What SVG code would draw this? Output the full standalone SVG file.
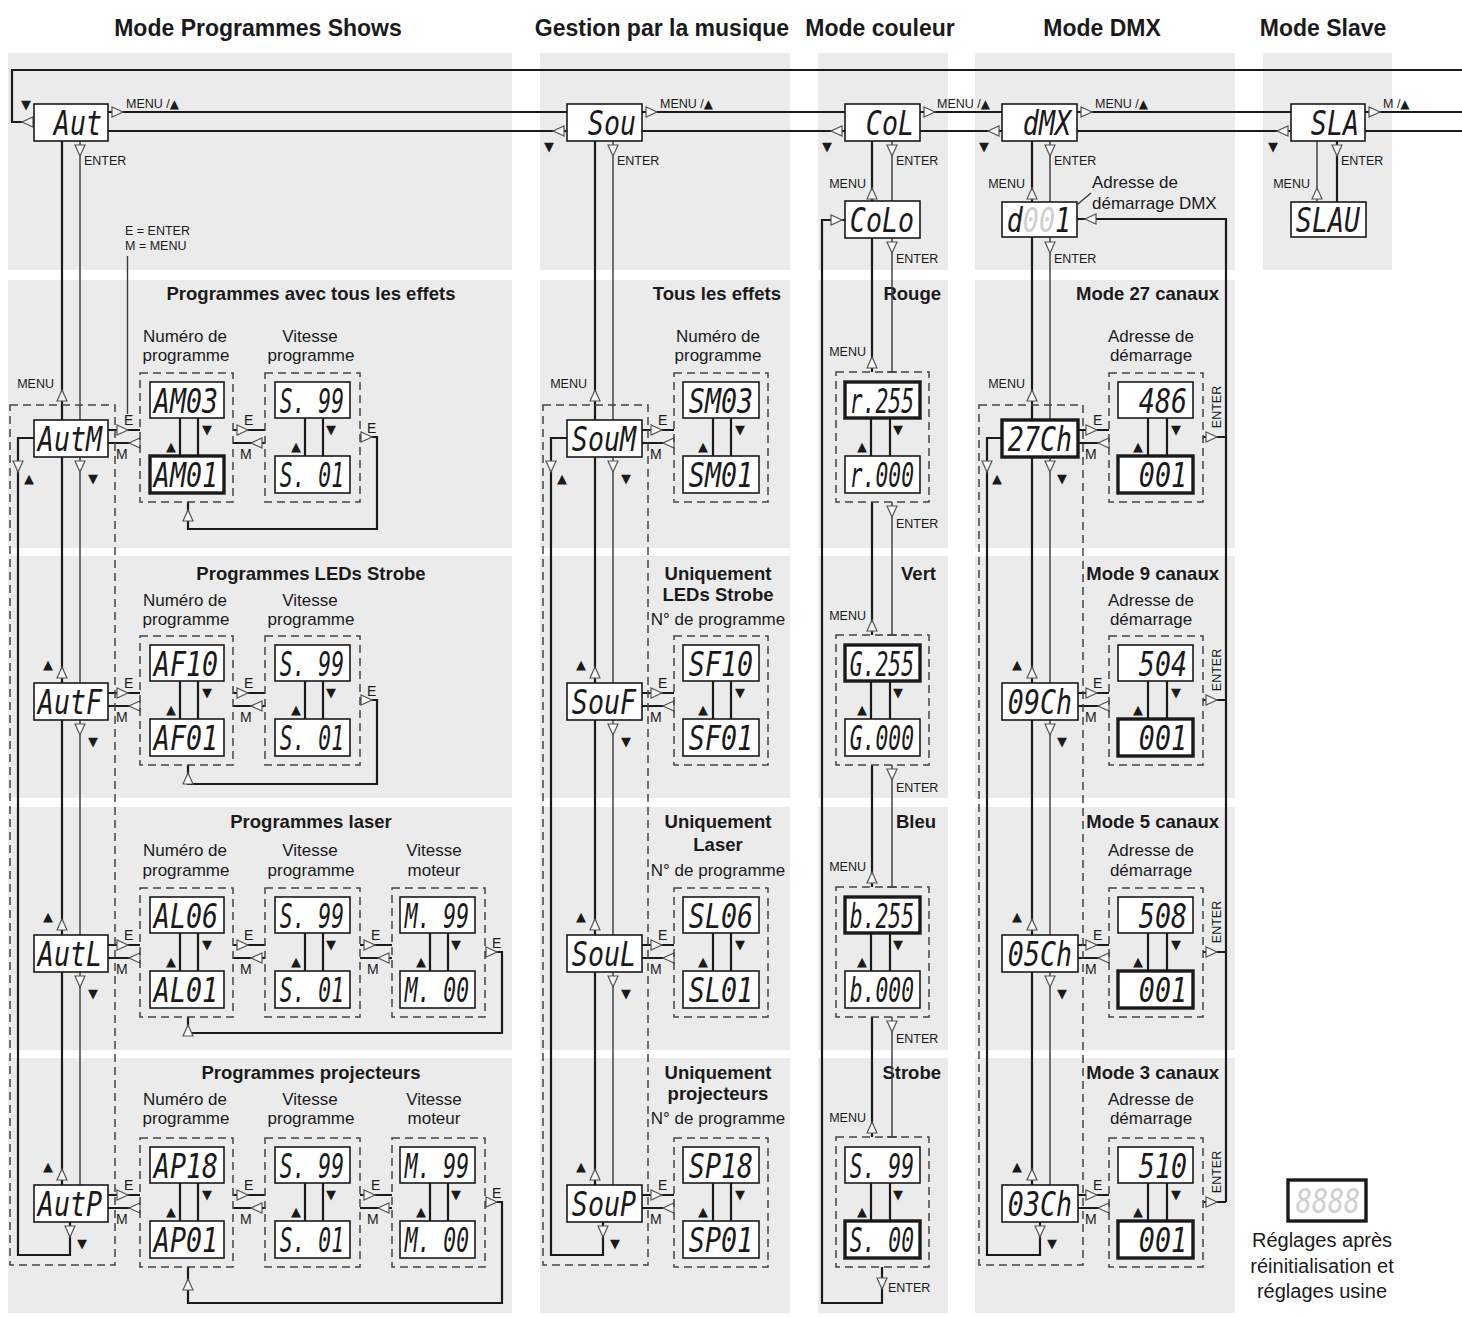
<svg xmlns="http://www.w3.org/2000/svg" width="1462" height="1317" viewBox="0 0 1462 1317">
<defs>
<style>
.bg{fill:#ebebeb}
.lcd{fill:#fff;stroke:#1a1a1a;stroke-width:1.6}
.lcdb{fill:#fff;stroke:#1a1a1a;stroke-width:3.4}
.seg{font-family:"DejaVu Sans Mono","Liberation Mono",monospace;font-style:oblique;font-size:34px;fill:#1a1a1a;text-anchor:end}
.dash{fill:none;stroke:#444;stroke-width:1.5;stroke-dasharray:8 5}
.w{fill:none;stroke:#1a1a1a;stroke-width:2.2}
.t{fill:none;stroke:#3a3a3a;stroke-width:1.4}
.hd{font-family:"Liberation Sans",Arial,sans-serif;font-weight:bold;font-size:23px;fill:#1a1a1a;text-anchor:middle}
.st{font-family:"Liberation Sans",Arial,sans-serif;font-weight:bold;font-size:18.5px;fill:#1a1a1a}
.lb{font-family:"Liberation Sans",Arial,sans-serif;font-size:17px;fill:#1a1a1a;text-anchor:middle}
.lbs{font-family:"Liberation Sans",Arial,sans-serif;font-size:17px;fill:#1a1a1a;text-anchor:start}
.sm{font-family:"Liberation Sans",Arial,sans-serif;font-size:12.5px;fill:#1a1a1a}
.em{font-family:"Liberation Sans",Arial,sans-serif;font-size:14px;fill:#1a1a1a}
.tg{font-family:"DejaVu Sans",sans-serif;font-size:12px}
.tri{font-family:"DejaVu Sans","Liberation Sans",sans-serif;font-size:13px;fill:#1a1a1a;text-anchor:middle}
.m{text-anchor:middle}.e{text-anchor:end}
.ghost{fill:#cfcfcf}
</style>
<path id="ah" d="M0,0 L-11,-5 L-11,5 Z" fill="#f6f6f6" stroke="#555" stroke-width="1.2"/>
</defs>

<g id="backgrounds">
<rect class="bg" x="8" y="53" width="504" height="217"/>
<rect class="bg" x="8" y="280" width="504" height="268"/>
<rect class="bg" x="8" y="556" width="504" height="242"/>
<rect class="bg" x="8" y="807" width="504" height="243"/>
<rect class="bg" x="8" y="1058" width="504" height="255"/>
<rect class="bg" x="540" y="53" width="250" height="217"/>
<rect class="bg" x="540" y="280" width="250" height="268"/>
<rect class="bg" x="540" y="556" width="250" height="242"/>
<rect class="bg" x="540" y="807" width="250" height="243"/>
<rect class="bg" x="540" y="1058" width="250" height="255"/>
<rect class="bg" x="818" y="53" width="130" height="217"/>
<rect class="bg" x="818" y="280" width="130" height="268"/>
<rect class="bg" x="818" y="556" width="130" height="242"/>
<rect class="bg" x="818" y="807" width="130" height="243"/>
<rect class="bg" x="818" y="1058" width="130" height="255"/>
<rect class="bg" x="975" y="53" width="260" height="217"/>
<rect class="bg" x="975" y="280" width="260" height="268"/>
<rect class="bg" x="975" y="556" width="260" height="242"/>
<rect class="bg" x="975" y="807" width="260" height="243"/>
<rect class="bg" x="975" y="1058" width="260" height="255"/>
<rect class="bg" x="1263" y="53" width="129" height="217"/>
</g>

<g id="titles">
<text class="hd" x="258" y="36">Mode Programmes Shows</text>
<text class="hd" x="662" y="36">Gestion par la musique</text>
<text class="hd" x="880" y="36">Mode couleur</text>
<text class="hd" x="1102" y="36">Mode DMX</text>
<text class="hd" x="1323" y="36">Mode Slave</text>

<text class="st m" x="311" y="300">Programmes avec tous les effets</text>
<text class="st m" x="311" y="580">Programmes LEDs Strobe</text>
<text class="st m" x="311" y="828">Programmes laser</text>
<text class="st m" x="311" y="1079">Programmes projecteurs</text>

<text class="st e" x="781" y="300">Tous les effets</text>
<text class="st m" x="718" y="580">Uniquement</text>
<text class="st m" x="718" y="601">LEDs Strobe</text>
<text class="st m" x="718" y="828">Uniquement</text>
<text class="st m" x="718" y="851">Laser</text>
<text class="st m" x="718" y="1079">Uniquement</text>
<text class="st m" x="718" y="1100">projecteurs</text>

<text class="st e" x="941" y="300">Rouge</text>
<text class="st e" x="936" y="580">Vert</text>
<text class="st e" x="936" y="828">Bleu</text>
<text class="st e" x="941" y="1079">Strobe</text>

<text class="st e" x="1219" y="300">Mode 27 canaux</text>
<text class="st e" x="1219" y="580">Mode 9 canaux</text>
<text class="st e" x="1219" y="828">Mode 5 canaux</text>
<text class="st e" x="1219" y="1079">Mode 3 canaux</text>

<text class="lb" x="185" y="342">Numéro de</text><text class="lb" x="186" y="361">programme</text>
<text class="lb" x="310" y="342">Vitesse</text><text class="lb" x="311" y="361">programme</text>
<text class="lb" x="185" y="606">Numéro de</text><text class="lb" x="186" y="625">programme</text>
<text class="lb" x="310" y="606">Vitesse</text><text class="lb" x="311" y="625">programme</text>
<text class="lb" x="185" y="856">Numéro de</text><text class="lb" x="186" y="876">programme</text>
<text class="lb" x="310" y="856">Vitesse</text><text class="lb" x="311" y="876">programme</text>
<text class="lb" x="434" y="856">Vitesse</text><text class="lb" x="434" y="876">moteur</text>
<text class="lb" x="185" y="1105">Numéro de</text><text class="lb" x="186" y="1124">programme</text>
<text class="lb" x="310" y="1105">Vitesse</text><text class="lb" x="311" y="1124">programme</text>
<text class="lb" x="434" y="1105">Vitesse</text><text class="lb" x="434" y="1124">moteur</text>

<text class="lb" x="718" y="342">Numéro de</text><text class="lb" x="718" y="361">programme</text>
<text class="lb" x="718" y="625">N° de programme</text>
<text class="lb" x="718" y="876">N° de programme</text>
<text class="lb" x="718" y="1124">N° de programme</text>

<text class="lb" x="1151" y="342">Adresse de</text><text class="lb" x="1151" y="361">démarrage</text>
<text class="lb" x="1151" y="606">Adresse de</text><text class="lb" x="1151" y="625">démarrage</text>
<text class="lb" x="1151" y="856">Adresse de</text><text class="lb" x="1151" y="876">démarrage</text>
<text class="lb" x="1151" y="1105">Adresse de</text><text class="lb" x="1151" y="1124">démarrage</text>

<text class="lbs" x="1092" y="188">Adresse de</text>
<text class="lbs" x="1092" y="209">démarrage DMX</text>

<text class="sm" x="125" y="235">E = ENTER</text>
<text class="sm" x="125" y="250">M = MENU</text>
</g>

<g id="connectors">
<!-- top row -->
<path class="w" d="M1462,70H12V122H34"/>
<path class="w" d="M108,112H567M642,112H845M920,112H1002M1077,112H1291M1365,112H1462"/>
<path class="w" d="M108,131H567M642,131H845M920,131H1002M1077,131H1291M1365,131H1462"/>
<use href="#ah" transform="translate(22,122) rotate(180)"/>
<use href="#ah" transform="translate(123,112)"/>
<use href="#ah" transform="translate(657,112)"/>
<use href="#ah" transform="translate(935,112)"/>
<use href="#ah" transform="translate(1092,112)"/>
<use href="#ah" transform="translate(1380,112)"/>
<use href="#ah" transform="translate(553,131) rotate(180)"/>
<use href="#ah" transform="translate(831,131) rotate(180)"/>
<use href="#ah" transform="translate(988,131) rotate(180)"/>
<use href="#ah" transform="translate(1277,131) rotate(180)"/>
<text class="sm" x="126" y="108">MENU /<tspan class="tg">▲</tspan></text>
<text class="sm" x="660" y="108">MENU /<tspan class="tg">▲</tspan></text>
<text class="sm" x="937" y="108">MENU /<tspan class="tg">▲</tspan></text>
<text class="sm" x="1095" y="108">MENU /<tspan class="tg">▲</tspan></text>
<text class="sm" x="1383" y="108">M /<tspan class="tg">▲</tspan></text>
<text class="tri" x="26" y="109">▼</text>
<text class="tri" x="549" y="151">▼</text>
<text class="tri" x="827" y="151">▼</text>
<text class="tri" x="984" y="151">▼</text>
<text class="tri" x="1273" y="151">▼</text>

<!-- column 1 -->
<path class="w" d="M62,141V420M62,457V683M62,720V935M62,972V1185"/>
<path class="t" d="M80,141V420M80,457V683M80,720V935M80,972V1185"/>
<path class="w" d="M34,438H18V1255H70V1222"/>
<path class="t" d="M127.5,256V414"/>
<path class="w" d="M108,430H140M108,443H140M233,430H265M233,443H265M108,693H140M108,706H140M233,693H265M233,706H265M108,945H140M108,958H140M233,945H265M233,958H265M360,945H392M360,958H392M108,1195H140M108,1208H140M233,1195H265M233,1208H265M360,1195H392M360,1208H392"/>
<path class="w" d="M180,418V456M198,418V456M305,418V456M323,418V456M180,681V719M198,681V719M305,681V719M323,681V719M180,933V971M198,933V971M305,933V971M323,933V971M430,933V971M448,933V971M180,1183V1221M198,1183V1221M305,1183V1221M323,1183V1221M430,1183V1221M448,1183V1221"/>
<path class="w" d="M360,437H377V529H188V502M360,700H377V784H188V765M485,952H502V1033H188V1017M485,1202H502V1303H188V1267"/>
<use href="#ah" transform="translate(80,156) rotate(90)"/>
<use href="#ah" transform="translate(62,390) rotate(-90)"/>
<use href="#ah" transform="translate(80,472) rotate(90)"/>
<use href="#ah" transform="translate(80,735) rotate(90)"/>
<use href="#ah" transform="translate(80,987) rotate(90)"/>
<use href="#ah" transform="translate(62,667) rotate(-90)"/>
<use href="#ah" transform="translate(62,919) rotate(-90)"/>
<use href="#ah" transform="translate(62,1169) rotate(-90)"/>
<use href="#ah" transform="translate(18,472) rotate(90)"/>
<use href="#ah" transform="translate(70,1237) rotate(90)"/>
<use href="#ah" transform="translate(128,430)"/><use href="#ah" transform="translate(129,443) rotate(180)"/>
<use href="#ah" transform="translate(248,430)"/><use href="#ah" transform="translate(251,443) rotate(180)"/>
<use href="#ah" transform="translate(128,693)"/><use href="#ah" transform="translate(129,706) rotate(180)"/>
<use href="#ah" transform="translate(248,693)"/><use href="#ah" transform="translate(251,706) rotate(180)"/>
<use href="#ah" transform="translate(128,945)"/><use href="#ah" transform="translate(129,958) rotate(180)"/>
<use href="#ah" transform="translate(248,945)"/><use href="#ah" transform="translate(251,958) rotate(180)"/>
<use href="#ah" transform="translate(375,945)"/><use href="#ah" transform="translate(378,958) rotate(180)"/>
<use href="#ah" transform="translate(128,1195)"/><use href="#ah" transform="translate(129,1208) rotate(180)"/>
<use href="#ah" transform="translate(248,1195)"/><use href="#ah" transform="translate(251,1208) rotate(180)"/>
<use href="#ah" transform="translate(375,1195)"/><use href="#ah" transform="translate(378,1208) rotate(180)"/>
<use href="#ah" transform="translate(372,437)"/>
<use href="#ah" transform="translate(372,700)"/>
<use href="#ah" transform="translate(497,952)"/>
<use href="#ah" transform="translate(497,1202)"/>
<use href="#ah" transform="translate(188,510) rotate(-90)"/>
<use href="#ah" transform="translate(188,773) rotate(-90)"/>
<use href="#ah" transform="translate(188,1025) rotate(-90)"/>
<use href="#ah" transform="translate(188,1279) rotate(-90)"/>
<text class="sm" x="84" y="165">ENTER</text>
<text class="sm e" x="54" y="388">MENU</text>
<text class="tri" x="93" y="483">▼</text><text class="tri" x="93" y="746">▼</text><text class="tri" x="93" y="998">▼</text>
<text class="tri" x="48" y="669">▲</text><text class="tri" x="48" y="921">▲</text><text class="tri" x="48" y="1171">▲</text>
<text class="tri" x="29" y="483">▲</text><text class="tri" x="82" y="1248">▼</text>
<text class="em" x="124" y="425">E</text><text class="em" x="116" y="459">M</text>
<text class="em" x="244" y="425">E</text><text class="em" x="240" y="459">M</text>
<text class="em" x="367" y="433">E</text>
<text class="em" x="124" y="688">E</text><text class="em" x="116" y="722">M</text>
<text class="em" x="244" y="688">E</text><text class="em" x="240" y="722">M</text>
<text class="em" x="367" y="696">E</text>
<text class="em" x="124" y="940">E</text><text class="em" x="116" y="974">M</text>
<text class="em" x="244" y="940">E</text><text class="em" x="240" y="974">M</text>
<text class="em" x="371" y="940">E</text><text class="em" x="367" y="974">M</text>
<text class="em" x="492" y="948">E</text>
<text class="em" x="124" y="1190">E</text><text class="em" x="116" y="1224">M</text>
<text class="em" x="244" y="1190">E</text><text class="em" x="240" y="1224">M</text>
<text class="em" x="371" y="1190">E</text><text class="em" x="367" y="1224">M</text>
<text class="em" x="492" y="1198">E</text>
<text class="tri" x="171" y="451">▲</text><text class="tri" x="207" y="434">▼</text>
<text class="tri" x="296" y="451">▲</text><text class="tri" x="331" y="434">▼</text>
<text class="tri" x="171" y="714">▲</text><text class="tri" x="207" y="697">▼</text>
<text class="tri" x="296" y="714">▲</text><text class="tri" x="331" y="697">▼</text>
<text class="tri" x="171" y="966">▲</text><text class="tri" x="207" y="949">▼</text>
<text class="tri" x="296" y="966">▲</text><text class="tri" x="331" y="949">▼</text>
<text class="tri" x="421" y="966">▲</text><text class="tri" x="456" y="949">▼</text>
<text class="tri" x="171" y="1216">▲</text><text class="tri" x="207" y="1199">▼</text>
<text class="tri" x="296" y="1216">▲</text><text class="tri" x="331" y="1199">▼</text>
<text class="tri" x="421" y="1216">▲</text><text class="tri" x="456" y="1199">▼</text>

<!-- column 2 -->
<path class="w" d="M595,141V420M595,457V683M595,720V935M595,972V1185"/>
<path class="t" d="M613,141V420M613,457V683M613,720V935M613,972V1185"/>
<path class="w" d="M567,438H551V1255H603V1222"/>
<path class="w" d="M642,430H674M642,443H674M642,693H674M642,706H674M642,945H674M642,958H674M642,1195H674M642,1208H674"/>
<path class="w" d="M713,418V456M731,418V456M713,681V719M731,681V719M713,933V971M731,933V971M713,1183V1221M731,1183V1221"/>
<use href="#ah" transform="translate(613,156) rotate(90)"/>
<use href="#ah" transform="translate(595,390) rotate(-90)"/>
<use href="#ah" transform="translate(613,472) rotate(90)"/>
<use href="#ah" transform="translate(613,735) rotate(90)"/>
<use href="#ah" transform="translate(613,987) rotate(90)"/>
<use href="#ah" transform="translate(595,667) rotate(-90)"/>
<use href="#ah" transform="translate(595,919) rotate(-90)"/>
<use href="#ah" transform="translate(595,1169) rotate(-90)"/>
<use href="#ah" transform="translate(551,472) rotate(90)"/>
<use href="#ah" transform="translate(603,1237) rotate(90)"/>
<use href="#ah" transform="translate(662,430)"/><use href="#ah" transform="translate(663,443) rotate(180)"/>
<use href="#ah" transform="translate(662,693)"/><use href="#ah" transform="translate(663,706) rotate(180)"/>
<use href="#ah" transform="translate(662,945)"/><use href="#ah" transform="translate(663,958) rotate(180)"/>
<use href="#ah" transform="translate(662,1195)"/><use href="#ah" transform="translate(663,1208) rotate(180)"/>
<text class="sm" x="617" y="165">ENTER</text>
<text class="sm e" x="587" y="388">MENU</text>
<text class="tri" x="626" y="483">▼</text><text class="tri" x="626" y="746">▼</text><text class="tri" x="626" y="998">▼</text>
<text class="tri" x="581" y="669">▲</text><text class="tri" x="581" y="921">▲</text><text class="tri" x="581" y="1171">▲</text>
<text class="tri" x="562" y="483">▲</text><text class="tri" x="615" y="1248">▼</text>
<text class="em" x="658" y="425">E</text><text class="em" x="650" y="459">M</text>
<text class="em" x="658" y="688">E</text><text class="em" x="650" y="722">M</text>
<text class="em" x="658" y="940">E</text><text class="em" x="650" y="974">M</text>
<text class="em" x="658" y="1190">E</text><text class="em" x="650" y="1224">M</text>
<text class="tri" x="703" y="451">▲</text><text class="tri" x="740" y="434">▼</text>
<text class="tri" x="703" y="714">▲</text><text class="tri" x="740" y="697">▼</text>
<text class="tri" x="703" y="966">▲</text><text class="tri" x="740" y="949">▼</text>
<text class="tri" x="703" y="1216">▲</text><text class="tri" x="740" y="1199">▼</text>

<!-- column 3 -->
<path class="w" d="M872,141V201M872,238V372M872,502V635M872,765V887M872,1017V1137"/>
<path class="t" d="M892,141V201M892,238V372M892,502V635M892,765V887M892,1017V1137"/>
<path class="t" d="M887,372H897M887,635H897M887,887H897M887,1137H897"/>
<path class="w" d="M882,1267V1303H822V220H845"/>
<path class="w" d="M871,418V456M890,418V456M871,681V719M890,681V719M871,933V971M890,933V971M871,1183V1221M890,1183V1221"/>
<use href="#ah" transform="translate(892,156) rotate(90)"/>
<use href="#ah" transform="translate(872,188) rotate(-90)"/>
<use href="#ah" transform="translate(892,253) rotate(90)"/>
<use href="#ah" transform="translate(872,357) rotate(-90)"/>
<use href="#ah" transform="translate(892,517) rotate(90)"/>
<use href="#ah" transform="translate(872,620) rotate(-90)"/>
<use href="#ah" transform="translate(892,780) rotate(90)"/>
<use href="#ah" transform="translate(872,872) rotate(-90)"/>
<use href="#ah" transform="translate(892,1032) rotate(90)"/>
<use href="#ah" transform="translate(872,1122) rotate(-90)"/>
<use href="#ah" transform="translate(882,1289) rotate(90)"/>
<use href="#ah" transform="translate(842,220)"/>
<text class="sm" x="896" y="165">ENTER</text>
<text class="sm" x="896" y="263">ENTER</text>
<text class="sm" x="896" y="528">ENTER</text>
<text class="sm" x="896" y="792">ENTER</text>
<text class="sm" x="896" y="1043">ENTER</text>
<text class="sm" x="888" y="1292">ENTER</text>
<text class="sm e" x="866" y="188">MENU</text>
<text class="sm e" x="866" y="356">MENU</text>
<text class="sm e" x="866" y="620">MENU</text>
<text class="sm e" x="866" y="871">MENU</text>
<text class="sm e" x="866" y="1122">MENU</text>
<text class="tri" x="862" y="451">▲</text><text class="tri" x="898" y="434">▼</text>
<text class="tri" x="862" y="714">▲</text><text class="tri" x="898" y="697">▼</text>
<text class="tri" x="862" y="966">▲</text><text class="tri" x="898" y="949">▼</text>
<text class="tri" x="862" y="1216">▲</text><text class="tri" x="898" y="1199">▼</text>

<!-- column 4 -->
<path class="w" d="M1032,141V202M1032,237V420M1032,457V683M1032,720V935M1032,972V1185"/>
<path class="t" d="M1050,141V202M1050,237V420M1050,457V683M1050,720V935M1050,972V1185"/>
<path class="w" d="M1002,438H987V1255H1040V1222"/>
<path class="w" d="M1078,430H1109M1078,443H1109M1078,693H1109M1078,706H1109M1078,945H1109M1078,958H1109M1078,1195H1109M1078,1208H1109"/>
<path class="w" d="M1148,418V456M1167,418V456M1148,681V719M1167,681V719M1148,933V971M1167,933V971M1148,1183V1221M1167,1183V1221"/>
<path class="w" d="M1077,219H1226V1202M1203,437H1226M1203,700H1226M1203,952H1226M1203,1202H1226"/>
<path class="t" d="M1078,204L1091,193"/>
<use href="#ah" transform="translate(1085,219) rotate(180)"/>
<use href="#ah" transform="translate(1217,437)"/>
<use href="#ah" transform="translate(1217,700)"/>
<use href="#ah" transform="translate(1217,952)"/>
<use href="#ah" transform="translate(1217,1202)"/>
<use href="#ah" transform="translate(1050,156) rotate(90)"/>
<use href="#ah" transform="translate(1032,188) rotate(-90)"/>
<use href="#ah" transform="translate(1050,253) rotate(90)"/>
<use href="#ah" transform="translate(1032,390) rotate(-90)"/>
<use href="#ah" transform="translate(1050,472) rotate(90)"/>
<use href="#ah" transform="translate(1050,735) rotate(90)"/>
<use href="#ah" transform="translate(1050,987) rotate(90)"/>
<use href="#ah" transform="translate(1032,667) rotate(-90)"/>
<use href="#ah" transform="translate(1032,919) rotate(-90)"/>
<use href="#ah" transform="translate(1032,1169) rotate(-90)"/>
<use href="#ah" transform="translate(987,472) rotate(90)"/>
<use href="#ah" transform="translate(1040,1237) rotate(90)"/>
<use href="#ah" transform="translate(1097,430)"/><use href="#ah" transform="translate(1098,443) rotate(180)"/>
<use href="#ah" transform="translate(1097,693)"/><use href="#ah" transform="translate(1098,706) rotate(180)"/>
<use href="#ah" transform="translate(1097,945)"/><use href="#ah" transform="translate(1098,958) rotate(180)"/>
<use href="#ah" transform="translate(1097,1195)"/><use href="#ah" transform="translate(1098,1208) rotate(180)"/>
<text class="sm" x="1054" y="165">ENTER</text>
<text class="sm" x="1054" y="263">ENTER</text>
<text class="sm e" x="1025" y="188">MENU</text>
<text class="sm e" x="1025" y="388">MENU</text>
<text class="tri" x="1062" y="483">▼</text><text class="tri" x="1062" y="746">▼</text><text class="tri" x="1062" y="998">▼</text>
<text class="tri" x="1017" y="669">▲</text><text class="tri" x="1017" y="921">▲</text><text class="tri" x="1017" y="1171">▲</text>
<text class="tri" x="997" y="483">▲</text><text class="tri" x="1052" y="1248">▼</text>
<text class="em" x="1093" y="425">E</text><text class="em" x="1085" y="459">M</text>
<text class="em" x="1093" y="688">E</text><text class="em" x="1085" y="722">M</text>
<text class="em" x="1093" y="940">E</text><text class="em" x="1085" y="974">M</text>
<text class="em" x="1093" y="1190">E</text><text class="em" x="1085" y="1224">M</text>
<text class="tri" x="1138" y="451">▲</text><text class="tri" x="1176" y="434">▼</text>
<text class="tri" x="1138" y="714">▲</text><text class="tri" x="1176" y="697">▼</text>
<text class="tri" x="1138" y="966">▲</text><text class="tri" x="1176" y="949">▼</text>
<text class="tri" x="1138" y="1216">▲</text><text class="tri" x="1176" y="1199">▼</text>
<text class="sm m" transform="translate(1221,407) rotate(-90)">ENTER</text>
<text class="sm m" transform="translate(1221,670) rotate(-90)">ENTER</text>
<text class="sm m" transform="translate(1221,922) rotate(-90)">ENTER</text>
<text class="sm m" transform="translate(1221,1172) rotate(-90)">ENTER</text>

<!-- column 5 -->
<path class="t" d="M1317,141V202"/>
<path class="w" d="M1337,141V202"/>
<use href="#ah" transform="translate(1317,188) rotate(-90)"/>
<use href="#ah" transform="translate(1337,156) rotate(90)"/>
<text class="sm e" x="1310" y="188">MENU</text>
<text class="sm" x="1341" y="165">ENTER</text>
</g>

<g id="dashed-frames">
<rect class="dash" x="10" y="405" width="105" height="860"/>
<rect class="dash" x="543" y="405" width="105" height="860"/>
<rect class="dash" x="979" y="405" width="104" height="860"/>
<rect class="dash" x="140" y="373" width="93" height="129"/><rect class="dash" x="265" y="373" width="95" height="129"/>
<rect class="dash" x="140" y="636" width="93" height="129"/><rect class="dash" x="265" y="636" width="95" height="129"/>
<rect class="dash" x="140" y="888" width="93" height="129"/><rect class="dash" x="265" y="888" width="95" height="129"/><rect class="dash" x="392" y="888" width="93" height="129"/>
<rect class="dash" x="140" y="1138" width="93" height="129"/><rect class="dash" x="265" y="1138" width="95" height="129"/><rect class="dash" x="392" y="1138" width="93" height="129"/>
<rect class="dash" x="674" y="373" width="94" height="129"/>
<rect class="dash" x="674" y="636" width="94" height="129"/>
<rect class="dash" x="674" y="888" width="94" height="129"/>
<rect class="dash" x="674" y="1138" width="94" height="129"/>
<rect class="dash" x="836" y="372" width="93" height="130"/>
<rect class="dash" x="836" y="635" width="93" height="130"/>
<rect class="dash" x="836" y="887" width="93" height="130"/>
<rect class="dash" x="836" y="1137" width="93" height="130"/>
<rect class="dash" x="1109" y="373" width="94" height="129"/>
<rect class="dash" x="1109" y="636" width="94" height="129"/>
<rect class="dash" x="1109" y="888" width="94" height="129"/>
<rect class="dash" x="1109" y="1138" width="94" height="129"/>
</g>

<g id="n-aut"><rect class="lcd" x="34" y="104" width="74" height="37"/><text class="seg" transform="translate(102,135) scale(0.784,1)">Aut</text></g>
<g id="n-sou"><rect class="lcd" x="567" y="104" width="75" height="37"/><text class="seg" transform="translate(636,135) scale(0.784,1)">Sou</text></g>
<g id="n-col"><rect class="lcd" x="845" y="104" width="75" height="37"/><text class="seg" transform="translate(914,135) scale(0.784,1)">CoL</text></g>
<g id="n-dmx"><rect class="lcd" x="1002" y="104" width="75" height="37"/><text class="seg" transform="translate(1071,135) scale(0.784,1)">dMX</text></g>
<g id="n-sla"><rect class="lcd" x="1291" y="104" width="74" height="37"/><text class="seg" transform="translate(1359,135) scale(0.784,1)">SLA</text></g>
<g id="n-colo"><rect class="lcd" x="845" y="201" width="75" height="37"/><text class="seg" transform="translate(914,232) scale(0.784,1)">CoLo</text></g>
<g id="n-d001"><rect class="lcd" x="1002" y="202" width="75" height="35"/><text class="seg" transform="translate(1071,232) scale(0.784,1)">d<tspan class="ghost">00</tspan>1</text></g>
<g id="n-slau"><rect class="lcd" x="1291" y="202" width="75" height="35"/><text class="seg" transform="translate(1360,232) scale(0.784,1)">SLAU</text></g>

<g id="n-autm"><rect class="lcd" x="34" y="420" width="74" height="37"/><text class="seg" transform="translate(102,451) scale(0.784,1)">AutM</text></g>
<g id="n-autf"><rect class="lcd" x="34" y="683" width="74" height="37"/><text class="seg" transform="translate(102,714) scale(0.784,1)">AutF</text></g>
<g id="n-autl"><rect class="lcd" x="34" y="935" width="74" height="37"/><text class="seg" transform="translate(102,966) scale(0.784,1)">AutL</text></g>
<g id="n-autp"><rect class="lcd" x="34" y="1185" width="74" height="37"/><text class="seg" transform="translate(102,1216) scale(0.784,1)">AutP</text></g>

<g id="n-am"><rect class="lcd" x="150" y="382" width="74" height="36"/><text class="seg" transform="translate(218,413) scale(0.784,1)">AM03</text><rect class="lcdb" x="150" y="456" width="74" height="37"/><text class="seg" transform="translate(218,487) scale(0.784,1)">AM01</text></g>
<g id="n-am-speed"><rect class="lcd" x="275" y="382" width="75" height="36"/><text class="seg" transform="translate(344,413) scale(0.627,1)">S. 99</text><rect class="lcd" x="275" y="456" width="75" height="37"/><text class="seg" transform="translate(344,487) scale(0.627,1)">S. 01</text></g>
<g id="n-af"><rect class="lcd" x="150" y="645" width="74" height="36"/><text class="seg" transform="translate(218,676) scale(0.784,1)">AF10</text><rect class="lcd" x="150" y="719" width="74" height="37"/><text class="seg" transform="translate(218,750) scale(0.784,1)">AF01</text></g>
<g id="n-af-speed"><rect class="lcd" x="275" y="645" width="75" height="36"/><text class="seg" transform="translate(344,676) scale(0.627,1)">S. 99</text><rect class="lcd" x="275" y="719" width="75" height="37"/><text class="seg" transform="translate(344,750) scale(0.627,1)">S. 01</text></g>
<g id="n-al"><rect class="lcd" x="150" y="897" width="74" height="36"/><text class="seg" transform="translate(218,928) scale(0.784,1)">AL06</text><rect class="lcd" x="150" y="971" width="74" height="37"/><text class="seg" transform="translate(218,1002) scale(0.784,1)">AL01</text></g>
<g id="n-al-speed"><rect class="lcd" x="275" y="897" width="75" height="36"/><text class="seg" transform="translate(344,928) scale(0.627,1)">S. 99</text><rect class="lcd" x="275" y="971" width="75" height="37"/><text class="seg" transform="translate(344,1002) scale(0.627,1)">S. 01</text></g>
<g id="n-al-motor"><rect class="lcd" x="400" y="897" width="75" height="36"/><text class="seg" transform="translate(469,928) scale(0.627,1)">M. 99</text><rect class="lcd" x="400" y="971" width="75" height="37"/><text class="seg" transform="translate(469,1002) scale(0.627,1)">M. 00</text></g>
<g id="n-ap"><rect class="lcd" x="150" y="1147" width="74" height="36"/><text class="seg" transform="translate(218,1178) scale(0.784,1)">AP18</text><rect class="lcd" x="150" y="1221" width="74" height="37"/><text class="seg" transform="translate(218,1252) scale(0.784,1)">AP01</text></g>
<g id="n-ap-speed"><rect class="lcd" x="275" y="1147" width="75" height="36"/><text class="seg" transform="translate(344,1178) scale(0.627,1)">S. 99</text><rect class="lcd" x="275" y="1221" width="75" height="37"/><text class="seg" transform="translate(344,1252) scale(0.627,1)">S. 01</text></g>
<g id="n-ap-motor"><rect class="lcd" x="400" y="1147" width="75" height="36"/><text class="seg" transform="translate(469,1178) scale(0.627,1)">M. 99</text><rect class="lcd" x="400" y="1221" width="75" height="37"/><text class="seg" transform="translate(469,1252) scale(0.627,1)">M. 00</text></g>

<g id="n-soum"><rect class="lcd" x="567" y="420" width="75" height="37"/><text class="seg" transform="translate(636,451) scale(0.784,1)">SouM</text></g>
<g id="n-souf"><rect class="lcd" x="567" y="683" width="75" height="37"/><text class="seg" transform="translate(636,714) scale(0.784,1)">SouF</text></g>
<g id="n-soul"><rect class="lcd" x="567" y="935" width="75" height="37"/><text class="seg" transform="translate(636,966) scale(0.784,1)">SouL</text></g>
<g id="n-soup"><rect class="lcd" x="567" y="1185" width="75" height="37"/><text class="seg" transform="translate(636,1216) scale(0.784,1)">SouP</text></g>
<g id="n-sm"><rect class="lcd" x="683" y="382" width="76" height="36"/><text class="seg" transform="translate(753,413) scale(0.784,1)">SM03</text><rect class="lcd" x="683" y="456" width="76" height="37"/><text class="seg" transform="translate(753,487) scale(0.784,1)">SM01</text></g>
<g id="n-sf"><rect class="lcd" x="683" y="645" width="76" height="36"/><text class="seg" transform="translate(753,676) scale(0.784,1)">SF10</text><rect class="lcd" x="683" y="719" width="76" height="37"/><text class="seg" transform="translate(753,750) scale(0.784,1)">SF01</text></g>
<g id="n-sl"><rect class="lcd" x="683" y="897" width="76" height="36"/><text class="seg" transform="translate(753,928) scale(0.784,1)">SL06</text><rect class="lcd" x="683" y="971" width="76" height="37"/><text class="seg" transform="translate(753,1002) scale(0.784,1)">SL01</text></g>
<g id="n-sp"><rect class="lcd" x="683" y="1147" width="76" height="36"/><text class="seg" transform="translate(753,1178) scale(0.784,1)">SP18</text><rect class="lcd" x="683" y="1221" width="76" height="37"/><text class="seg" transform="translate(753,1252) scale(0.784,1)">SP01</text></g>

<g id="n-red"><rect class="lcdb" x="845" y="382" width="75" height="36"/><text class="seg" transform="translate(914,413) scale(0.627,1)">r.255</text><rect class="lcd" x="845" y="456" width="75" height="37"/><text class="seg" transform="translate(914,487) scale(0.627,1)">r.000</text></g>
<g id="n-green"><rect class="lcdb" x="845" y="645" width="75" height="36"/><text class="seg" transform="translate(914,676) scale(0.627,1)">G.255</text><rect class="lcd" x="845" y="719" width="75" height="37"/><text class="seg" transform="translate(914,750) scale(0.627,1)">G.000</text></g>
<g id="n-blue"><rect class="lcdb" x="845" y="897" width="75" height="36"/><text class="seg" transform="translate(914,928) scale(0.627,1)">b.255</text><rect class="lcd" x="845" y="971" width="75" height="37"/><text class="seg" transform="translate(914,1002) scale(0.627,1)">b.000</text></g>
<g id="n-strobe"><rect class="lcd" x="845" y="1147" width="75" height="36"/><text class="seg" transform="translate(914,1178) scale(0.627,1)">S. 99</text><rect class="lcdb" x="845" y="1221" width="75" height="37"/><text class="seg" transform="translate(914,1252) scale(0.627,1)">S. 00</text></g>

<g id="n-27ch"><rect class="lcdb" x="1002" y="420" width="76" height="37"/><text class="seg" transform="translate(1072,451) scale(0.784,1)">27Ch</text></g>
<g id="n-09ch"><rect class="lcd" x="1002" y="683" width="76" height="37"/><text class="seg" transform="translate(1072,714) scale(0.784,1)">09Ch</text></g>
<g id="n-05ch"><rect class="lcd" x="1002" y="935" width="76" height="37"/><text class="seg" transform="translate(1072,966) scale(0.784,1)">05Ch</text></g>
<g id="n-03ch"><rect class="lcd" x="1002" y="1185" width="76" height="37"/><text class="seg" transform="translate(1072,1216) scale(0.784,1)">03Ch</text></g>
<g id="n-addr27"><rect class="lcd" x="1118" y="382" width="75" height="36"/><text class="seg" transform="translate(1187,413) scale(0.784,1)">486</text><rect class="lcdb" x="1118" y="456" width="75" height="37"/><text class="seg" transform="translate(1187,487) scale(0.784,1)">001</text></g>
<g id="n-addr9"><rect class="lcd" x="1118" y="645" width="75" height="36"/><text class="seg" transform="translate(1187,676) scale(0.784,1)">504</text><rect class="lcdb" x="1118" y="719" width="75" height="37"/><text class="seg" transform="translate(1187,750) scale(0.784,1)">001</text></g>
<g id="n-addr5"><rect class="lcd" x="1118" y="897" width="75" height="36"/><text class="seg" transform="translate(1187,928) scale(0.784,1)">508</text><rect class="lcdb" x="1118" y="971" width="75" height="37"/><text class="seg" transform="translate(1187,1002) scale(0.784,1)">001</text></g>
<g id="n-addr3"><rect class="lcd" x="1118" y="1147" width="75" height="36"/><text class="seg" transform="translate(1187,1178) scale(0.784,1)">510</text><rect class="lcdb" x="1118" y="1221" width="75" height="37"/><text class="seg" transform="translate(1187,1252) scale(0.784,1)">001</text></g>

<g id="n-legend">
<rect class="lcdb" x="1288" y="1180" width="78" height="41"/>
<text class="seg ghost" transform="translate(1360,1213) scale(0.784,1)">8888</text>
<text class="lb" x="1322" y="1247" style="font-size:20px">Réglages après</text>
<text class="lb" x="1322" y="1273" style="font-size:20px">réinitialisation et</text>
<text class="lb" x="1322" y="1298" style="font-size:20px">réglages usine</text>
</g>
</svg>
